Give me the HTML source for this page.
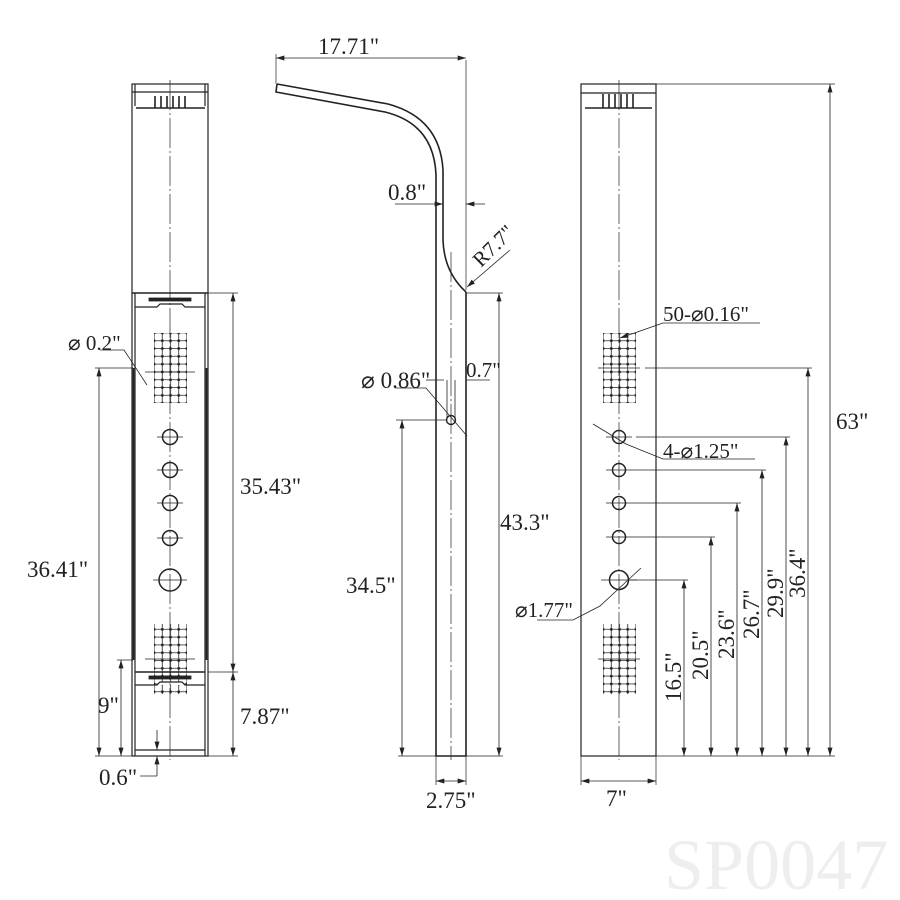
<!DOCTYPE html>
<html><head><meta charset="utf-8"><style>
html,body{margin:0;padding:0;background:#fff;}
svg{display:block;}
text{font-family:"Liberation Serif",serif;fill:#222;}
</style></head><body>
<svg width="900" height="900" viewBox="0 0 900 900" xmlns="http://www.w3.org/2000/svg">
<defs>
<marker id="a" viewBox="0 0 10 6" refX="10" refY="3" markerWidth="9" markerHeight="5" orient="auto-start-reverse" markerUnits="userSpaceOnUse"><path d="M0,0 L10,3 L0,6 z" fill="#222"/></marker>
<pattern id="g" x="150" y="329" width="8.2" height="7.8" patternUnits="userSpaceOnUse">
<path d="M4.1,0 V7.8 M0,3.9 H8.2" stroke="#222" stroke-width="0.8"/><circle cx="4.1" cy="3.9" r="1.4" fill="#222"/></pattern>
<pattern id="g2" x="599" y="329" width="8.2" height="7.8" patternUnits="userSpaceOnUse">
<path d="M4.1,0 V7.8 M0,3.9 H8.2" stroke="#222" stroke-width="0.8"/><circle cx="4.1" cy="3.9" r="1.4" fill="#222"/></pattern>
</defs>
<g stroke="#222" fill="none" stroke-width="1.2">
<!-- LEFT VIEW -->
<rect x="132" y="84" width="76" height="672"/>
<line x1="135" y1="84" x2="135" y2="106"/><line x1="205" y1="84" x2="205" y2="106"/>
<line x1="132" y1="92" x2="208" y2="92"/>
<line x1="136" y1="108" x2="205" y2="108" stroke-width="1.6"/>
<path d="M155,96V108M161,96V108M167,96V108M173,96V108M179,96V108M185,96V108" stroke-width="1.6"/>
<line x1="132" y1="293" x2="208" y2="293" stroke-width="1.5"/>
<line x1="135" y1="293" x2="135" y2="756"/><line x1="205" y1="293" x2="205" y2="756"/>
<line x1="133.5" y1="368" x2="133.5" y2="660" stroke-width="1.8"/><line x1="206.5" y1="368" x2="206.5" y2="660" stroke-width="1.8"/>
<rect x="149" y="298" width="42" height="3" fill="#222" stroke-width="0.8"/>
<path d="M135,307H157L160,304H182L185,307H205"/>
<rect x="154" y="333" width="33" height="70" fill="url(#g)" stroke="none"/>
<rect x="154" y="624" width="33" height="70" fill="url(#g)" stroke="none"/>
<line x1="145" y1="372" x2="195" y2="372" stroke-width="0.7"/>
<line x1="145" y1="659" x2="195" y2="659" stroke-width="0.7"/>
<line x1="135" y1="672" x2="205" y2="672" stroke-width="1.5"/>
<rect x="149" y="676" width="42" height="3" fill="#222" stroke-width="0.8"/>
<path d="M135,685H157L160,682H182L185,685H205" fill="#fff"/>
<line x1="135" y1="750" x2="205" y2="750"/>
<line x1="170" y1="80" x2="170" y2="760" stroke-width="0.7" stroke-dasharray="30,3,2,3"/>
<g stroke-width="1.5"><circle cx="170" cy="437" r="7.5"/><circle cx="170" cy="470" r="7.5"/><circle cx="170" cy="503" r="7.5"/><circle cx="170" cy="538" r="7.5"/><circle cx="170" cy="580" r="11"/></g>
<path d="M157,437H183M157,470H183M157,503H183M157,538H183M153,580H187" stroke-width="0.7"/>
<!-- left dims -->
<path d="M208,293H238M208,672H238M208,756H238" stroke-width="0.7"/>
<line x1="233" y1="293" x2="233" y2="672" stroke-width="0.8" marker-start="url(#a)" marker-end="url(#a)"/>
<line x1="233" y1="672" x2="233" y2="756" stroke-width="0.8" marker-start="url(#a)" marker-end="url(#a)"/>
<path d="M95,368H133M117,660H133M95,756H132" stroke-width="0.7"/>
<line x1="99" y1="368" x2="99" y2="756" stroke-width="0.8" marker-start="url(#a)" marker-end="url(#a)"/>
<line x1="121" y1="660" x2="121" y2="756" stroke-width="0.8" marker-start="url(#a)" marker-end="url(#a)"/>
<path d="M100,350H124L147,385" stroke-width="0.8"/>
<line x1="157" y1="730" x2="157" y2="750" stroke-width="0.8" marker-end="url(#a)"/>
<line x1="157" y1="776" x2="157" y2="756" stroke-width="0.8" marker-end="url(#a)"/>
<path d="M140,776H157" stroke-width="0.8"/>
<!-- MIDDLE VIEW -->
<path d="M277,84 L388,104 Q440,118 443,170 L443,240 Q444,272 466,292" stroke-width="1.6"/>
<path d="M277,84 L276,92 L385,112 Q434,124 436,175 L436,756 L466,756 L466,292" stroke-width="1.6"/>
<line x1="451" y1="252" x2="451" y2="760" stroke-width="0.7" stroke-dasharray="30,3,2,3"/>
<line x1="447" y1="380" x2="447" y2="420" stroke-width="0.8"/><line x1="455" y1="380" x2="455" y2="420" stroke-width="0.8"/>
<circle cx="451" cy="420" r="4.5" stroke-width="1.4"/>
<path d="M276,84V54M466,60V290" stroke-width="0.7"/>
<line x1="276" y1="58" x2="466" y2="58" stroke-width="0.8" marker-start="url(#a)" marker-end="url(#a)"/>
<path d="M395,204H426" stroke-width="0.8"/>
<line x1="426" y1="204" x2="443" y2="204" stroke-width="0.8" marker-end="url(#a)"/>
<line x1="485" y1="204" x2="466" y2="204" stroke-width="0.8" marker-end="url(#a)"/>
<line x1="510" y1="250" x2="467" y2="287" stroke-width="0.8" marker-end="url(#a)"/>
<path d="M466,293H503M436,380H444M466,380H490" stroke-width="0.7"/>
<line x1="499" y1="293" x2="499" y2="756" stroke-width="0.8" marker-start="url(#a)" marker-end="url(#a)"/>
<line x1="426" y1="380" x2="436" y2="380" stroke-width="0.8"/>
<path d="M396,420H446M398,756H503M436,756V785M466,756V785" stroke-width="0.7"/>
<line x1="402" y1="420" x2="402" y2="756" stroke-width="0.8" marker-start="url(#a)" marker-end="url(#a)"/>
<path d="M395,388H426L467,436" stroke-width="0.8"/>
<line x1="436" y1="781" x2="466" y2="781" stroke-width="0.8" marker-start="url(#a)" marker-end="url(#a)"/>
<!-- RIGHT VIEW -->
<rect x="581" y="84" width="75" height="672"/>
<line x1="581" y1="93" x2="656" y2="93"/>
<line x1="585" y1="108" x2="652" y2="108" stroke-width="1.6"/>
<path d="M603,94V108M609,94V108M615,94V108M621,94V108M627,94V108M633,94V108" stroke-width="1.6"/>
<line x1="619" y1="80" x2="619" y2="760" stroke-width="0.7" stroke-dasharray="30,3,2,3"/>
<rect x="603" y="333" width="33" height="70" fill="url(#g2)" stroke="none"/>
<rect x="603" y="624" width="33" height="70" fill="url(#g2)" stroke="none"/>
<line x1="598" y1="368" x2="640" y2="368" stroke-width="0.7"/>
<line x1="598" y1="659" x2="640" y2="659" stroke-width="0.7"/>
<g stroke-width="1.5"><circle cx="619" cy="437" r="6.5"/><circle cx="619" cy="470" r="6.5"/><circle cx="619" cy="503" r="6.5"/><circle cx="619" cy="537" r="6.5"/><circle cx="619" cy="580" r="9.5"/></g>
<path d="M606,470H632M606,503H632M606,537H632M606,437H632M601,580H637" stroke-width="0.7"/>
<!-- right dims -->
<path d="M656,84H835M645,368H812M636,437H790M632,470H766M632,503H741M632,537H715M630,580H688M656,756H835" stroke-width="0.7"/>
<line x1="830" y1="84" x2="830" y2="756" stroke-width="0.8" marker-start="url(#a)" marker-end="url(#a)"/>
<line x1="808" y1="368" x2="808" y2="756" stroke-width="0.8" marker-start="url(#a)" marker-end="url(#a)"/>
<line x1="786" y1="437" x2="786" y2="756" stroke-width="0.8" marker-start="url(#a)" marker-end="url(#a)"/>
<line x1="762" y1="470" x2="762" y2="756" stroke-width="0.8" marker-start="url(#a)" marker-end="url(#a)"/>
<line x1="737" y1="503" x2="737" y2="756" stroke-width="0.8" marker-start="url(#a)" marker-end="url(#a)"/>
<line x1="711" y1="537" x2="711" y2="756" stroke-width="0.8" marker-start="url(#a)" marker-end="url(#a)"/>
<line x1="684" y1="580" x2="684" y2="756" stroke-width="0.8" marker-start="url(#a)" marker-end="url(#a)"/>
<path d="M581,756V785M656,756V785" stroke-width="0.7"/>
<line x1="581" y1="781" x2="656" y2="781" stroke-width="0.8" marker-start="url(#a)" marker-end="url(#a)"/>
<path d="M663,323H760" stroke-width="0.8"/>
<line x1="663" y1="323" x2="620" y2="338" stroke-width="0.8" marker-end="url(#a)"/>
<path d="M593,424L626,444L663,459H755" stroke-width="0.8"/>
<path d="M641,568L600,606L573,620H537" stroke-width="0.8"/>
</g>
<g font-size="23">
<text x="318" y="54">17.71"</text>
<text x="388" y="200">0.8"</text>
<text x="481" y="268" transform="rotate(-45 481 268)" font-size="21">R7.7"</text>
<text x="466" y="377" font-size="21">0.7"</text>
<text x="361" y="388">⌀ 0.86"</text>
<text x="500" y="530">43.3"</text>
<text x="346" y="593">34.5"</text>
<text x="426" y="808">2.75"</text>
<text x="68" y="350" font-size="21">⌀ 0.2"</text>
<text x="240" y="494">35.43"</text>
<text x="27" y="577">36.41"</text>
<text x="98" y="713">9"</text>
<text x="240" y="724">7.87"</text>
<text x="99" y="785">0.6"</text>
<text x="836" y="429">63"</text>
<text x="663" y="321" font-size="21">50-⌀0.16"</text>
<text x="663" y="458" font-size="21">4-⌀1.25"</text>
<text x="515" y="617" font-size="21">⌀1.77"</text>
<text x="606" y="806">7"</text>
<text transform="translate(681,702) rotate(-90)">16.5"</text>
<text transform="translate(708,680) rotate(-90)">20.5"</text>
<text transform="translate(734,659) rotate(-90)">23.6"</text>
<text transform="translate(759,639) rotate(-90)">26.7"</text>
<text transform="translate(783,618) rotate(-90)">29.9"</text>
<text transform="translate(805,598) rotate(-90)">36.4"</text>
</g>
<text x="664" y="889" font-size="72" style="fill:#eeeeee">SP0047</text>
</svg>
</body></html>
